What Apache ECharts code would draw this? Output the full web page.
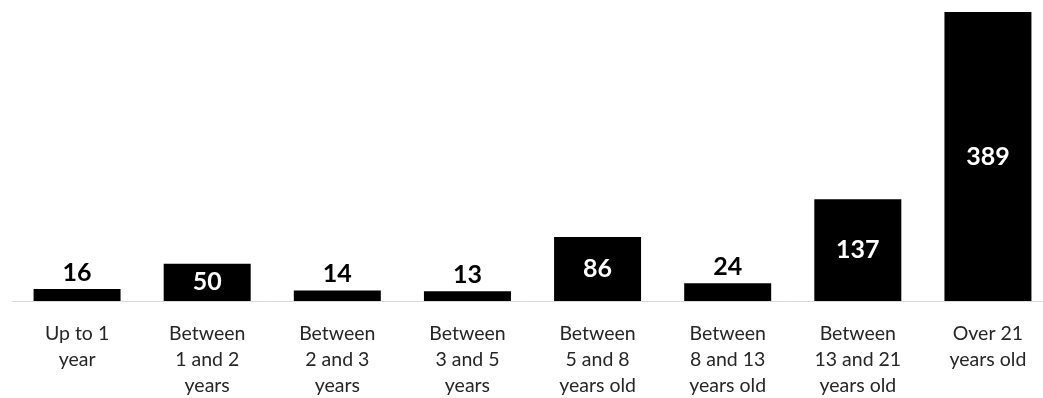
<!DOCTYPE html>
<html>
<head>
<meta charset="utf-8">
<script src="https://cdn.jsdelivr.net/npm/echarts@6/dist/echarts.min.js"></script>
<style>
  html, body { margin: 0; padding: 0; background: #fff; }
  #chart { width: 1043px; height: 398px; }
</style>
</head>
<body>
<div id="chart"></div>
<script>
const categories = [
  "Up to 1\nyear",
  "Between\n1 and 2\nyears",
  "Between\n2 and 3\nyears",
  "Between\n3 and 5\nyears",
  "Between\n5 and 8\nyears old",
  "Between\n8 and 13\nyears old",
  "Between\n13 and 21\nyears old",
  "Over 21\nyears old"
];
const values = [16, 50, 14, 13, 86, 24, 137, 389];
// bars tall enough to hold the number get it inside in white
const insideLabel = [false, true, false, false, true, false, true, true];

const chart = echarts.init(document.getElementById("chart"));

const data = values.map((v, i) => ({
  value: v,
  label: insideLabel[i]
    ? { position: "inside", color: "#fff" }
    : { position: "top", color: "#000", distance: 4 }
}));

chart.setOption({
  animation: false,
  grid: { left: 12, top: 12, width: 1041, height: 289, outerBoundsMode: "none" },
  xAxis: {
    type: "category",
    data: categories,
    axisLine: { lineStyle: { color: "#d9d9d9", width: 1 } },
    axisTick: { show: false },
    axisLabel: {
      interval: 0,
      color: "#262626",
      fontFamily: "Lato",
      fontSize: 19.5,
      lineHeight: 26,
      margin: 20,
      verticalAlign: "top"
    }
  },
  yAxis: {
    type: "value",
    min: 0,
    max: 389,
    show: false
  },
  series: [{
    type: "bar",
    data: data,
    barWidth: 87,
    itemStyle: { color: "#000" },
    label: {
      show: true,
      fontFamily: "Lato",
      fontWeight: "bold",
      fontSize: 25
    }
  }]
});
</script>
</body>
</html>
